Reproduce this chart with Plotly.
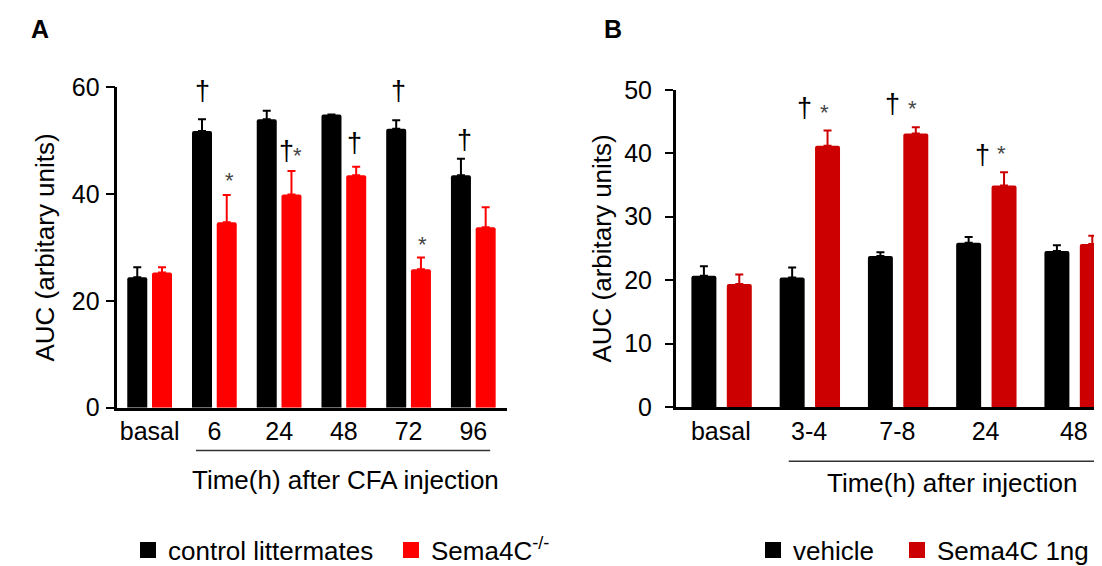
import plotly.graph_objects as go

# ---------------- data ----------------
cats_a = ["basal", "6", "24", "48", "72", "96"]
ctrl_a = [24.4, 51.8, 54.0, 54.9, 52.2, 43.5]
ctrl_a_err = [1.9, 2.2, 1.6, 0.0, 1.6, 3.1]
ko_a = [25.3, 34.7, 39.9, 43.5, 25.9, 33.8]
ko_a_err = [1.0, 5.1, 4.4, 1.6, 2.2, 3.7]

cats_b = ["basal", "3-4", "7-8", "24", "48"]
veh_b = [20.7, 20.4, 23.8, 25.9, 24.6]
veh_b_err = [1.5, 1.6, 0.6, 0.9, 0.9]
sema_b = [19.4, 41.2, 43.1, 34.9, 25.7]
sema_b_err = [1.5, 2.4, 1.0, 2.1, 1.3]

ticks_a = [0, 20, 40, 60]
ticks_b = [0, 10, 20, 30, 40, 50]

# significance marks: (x position in category units, y in data units, symbol)
sig_a = [(0.82, 59.3, "†"), (1.84, 61.1, "†"), (2.80, 61.1, "†"), (3.85, 59.3, "†"),
         (4.86, 50.1, "†"), (3.17, 49.5, "†"), (2.11, 48.1, "†"),
         (2.29, 48.1, "*"), (1.23, 43.5, "*"), (4.22, 31.5, "*")]
sig_b = [(0.95, 47.2, "†"), (1.18, 47.2, "*"), (1.95, 47.8, "†"), (2.17, 47.9, "*"),
         (2.97, 39.8, "†"), (3.18, 40.7, "*")]

FONT = "Liberation Sans, Arial, sans-serif"
W, H = 1102, 566
RED_A = "#FF0000"
RED_B = "#CC0000"

fig = go.Figure()

def bars(x, y, err, color, xa, ya, width, offset):
    return go.Bar(
        x=x, y=y, xaxis=xa, yaxis=ya, width=width, offset=offset,
        marker=dict(color=color, line=dict(width=0), cornerradius=2),
        error_y=dict(type="data", symmetric=False, array=err,
                     arrayminus=[0] * len(err), color=color, thickness=2, width=4),
        showlegend=False, hoverinfo="x+y",
    )

fig.add_trace(bars(cats_a, ctrl_a, ctrl_a_err, "#000000", "x", "y", 0.309, -0.346))
fig.add_trace(bars(cats_a, ko_a, ko_a_err, RED_A, "x", "y", 0.309, 0.036))
fig.add_trace(bars(cats_b, veh_b, veh_b_err, "#000000", "x2", "y2", 0.283, -0.333))
fig.add_trace(bars(cats_b, sema_b, sema_b_err, RED_B, "x2", "y2", 0.283, 0.068))

# legend entries
def leg(name, color, legend):
    return go.Scatter(x=[None], y=[None], mode="markers", name=name,
                      marker=dict(symbol="square", size=16, color=color),
                      legend=legend, showlegend=True, hoverinfo="skip")

fig.add_trace(leg("control littermates", "#000000", "legend"))
fig.add_trace(leg("Sema4C<sup>-/-</sup>", RED_A, "legend"))
fig.add_trace(leg("vehicle", "#000000", "legend2"))
fig.add_trace(leg("Sema4C 1ng", RED_B, "legend3"))

axis_common = dict(showline=True, linecolor="black", linewidth=2.5,
                   showgrid=False, zeroline=False,
                   tickfont=dict(family=FONT, size=25, color="black"))

leg_common = dict(orientation="h", y=1 - 548 / H, xanchor="left", yanchor="middle",
                  font=dict(family=FONT, size=26, color="black"), bgcolor="rgba(0,0,0,0)",
                  itemclick=False, itemdoubleclick=False)

fig.update_layout(
    width=W, height=H,
    margin=dict(l=0, r=0, t=0, b=0),
    paper_bgcolor="white", plot_bgcolor="white",
    barmode="group",
    font=dict(family=FONT, color="black"),
    xaxis=dict(domain=[109.3 / W, 499 / W], range=[-0.5, 5.52], type="category",
               ticks="", anchor="y", automargin=False, **axis_common),
    yaxis=dict(domain=[1 - 404 / H, 1 - 80 / H], range=[0, 60], tickvals=ticks_a,
               ticks="outside", ticklen=9, tickwidth=2, tickcolor="black",
               anchor="x", automargin=False, ticklabelstandoff=1,
               title=dict(text="AUC (arbitary units)", standoff=10,
                          font=dict(family=FONT, size=26, color="black")),
               **axis_common),
    xaxis2=dict(domain=[667.7 / W, 1.0], range=[-0.511, 4.41], type="category",
                ticks="", anchor="y2", automargin=False, **axis_common),
    yaxis2=dict(domain=[1 - 403.3 / H, 1 - 82.7 / H], range=[0, 50], tickvals=ticks_b,
                ticks="outside", ticklen=8, tickwidth=2, tickcolor="black",
                anchor="x2", automargin=False, ticklabelstandoff=8,
                title=dict(text="AUC (arbitary units)", standoff=6,
                           font=dict(family=FONT, size=26, color="black")),
                **axis_common),
    legend=dict(x=120 / W, entrywidth=218, entrywidthmode="pixels", **leg_common),
    legend2=dict(x=745 / W, **leg_common),
    legend3=dict(x=889 / W, **leg_common),
)

ann = []
for xa, marks in (("x", sig_a), ("x2", sig_b)):
    ya = "y" if xa == "x" else "y2"
    for xp, yp, s in marks:
        if s == "*":
            ann.append(dict(x=xp, y=yp, xref=xa, yref=ya, text=s, showarrow=False,
                            yanchor="middle", yshift=-5,
                            font=dict(family=FONT, size=22, color="#444444")))
        else:
            ann.append(dict(x=xp, y=yp, xref=xa, yref=ya, text=s, showarrow=False,
                            yanchor="middle",
                            font=dict(family=FONT, size=27, color="black")))

ann.append(dict(x=3.02, y=1 - 477 / H, xref="x", yref="paper", text="Time(h) after CFA injection",
                showarrow=False, yanchor="middle", font=dict(family=FONT, size=26, color="black")))
ann.append(dict(x=2.62, y=1 - 480 / H, xref="x2", yref="paper", text="Time(h) after injection",
                showarrow=False, yanchor="middle", font=dict(family=FONT, size=26, color="black")))
ann.append(dict(x=20.5 / W, y=1 - 21.5 / H, xref="paper", yref="paper", text="<b>A</b>",
                showarrow=False, yanchor="middle", font=dict(family=FONT, size=25, color="black")))
ann.append(dict(x=605 / W, y=1 - 21.5 / H, xref="paper", yref="paper", text="<b>B</b>",
                showarrow=False, yanchor="middle", font=dict(family=FONT, size=25, color="black")))
fig.update_layout(annotations=ann)

fig.add_shape(type="line", xref="x", yref="paper", x0=0.716, x1=5.26,
              y0=1 - 447.3 / H, y1=1 - 447.3 / H, line=dict(color="#333333", width=1.5))
fig.add_shape(type="line", xref="x2", yref="paper", x0=0.77, x1=4.41,
              y0=1 - 458 / H, y1=1 - 458 / H, line=dict(color="#333333", width=1.5))

fig.write_html("out.html")
